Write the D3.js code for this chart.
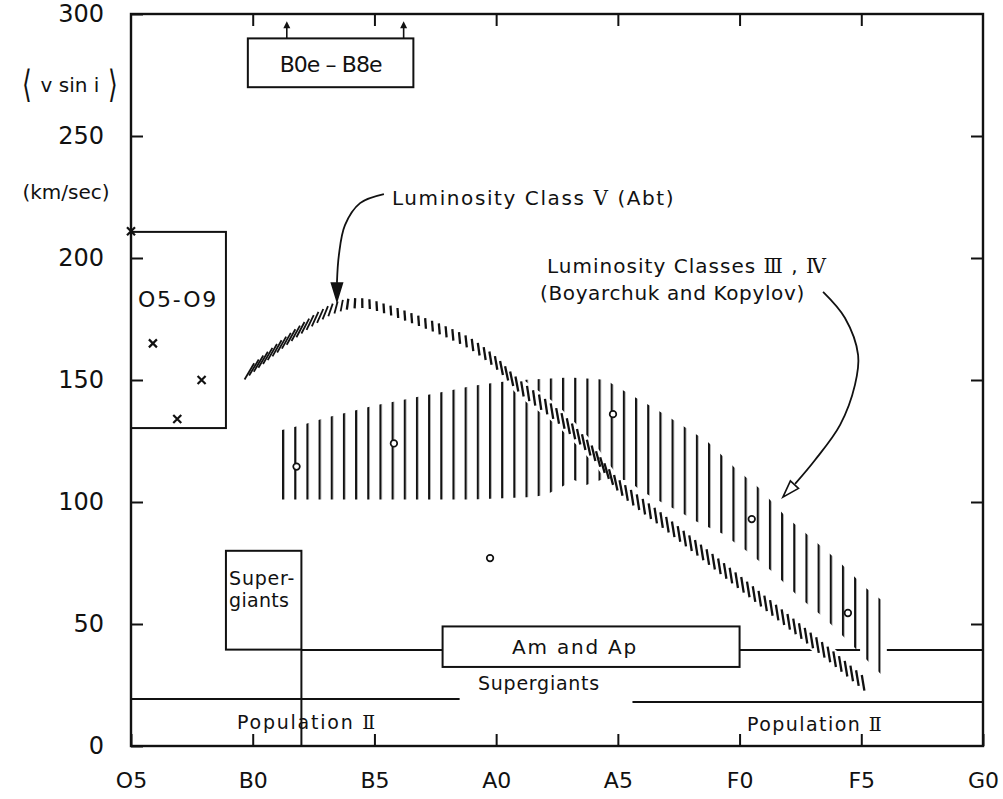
<!DOCTYPE html>
<html><head><meta charset="utf-8">
<script src="https://cdn.jsdelivr.net/npm/d3@7"></script>
<style>
body{margin:0;background:#fff}
text{font-family:"DejaVu Sans",sans-serif;fill:#111}
</style>
</head><body>
<svg id="c" width="1003" height="799"></svg>
<script>
// ---------- DATA ----------
// spectral type axis: index 0 = O5, 5 = B0, ... 35 = G0
const spectralTickPos = [0, 5, 10, 15, 20, 25, 30, 35];
const spectralTicks = ["O5", "B0", "B5", "A0", "A5", "F0", "F5", "G0"];
const vTicks = [0, 50, 100, 150, 200, 250, 300];

// O5–O9 individual stars (crosses)
const oStarX = [0, 0.9, 1.9, 2.9];
const oStarV = [211, 165, 134, 150];

// Luminosity class V (Abt) band: centre line and half thickness (km/s)
const abtX = [4.8, 6, 7.5, 8.5, 9.5, 10.5, 11.75, 13, 14, 15, 16, 17.5, 19, 20, 22, 24, 26, 28, 30.3];
const abtV = [153, 163, 174.5, 180, 181.5, 179, 174.5, 169.5, 164.5, 157, 147, 135.5, 120, 107, 91, 75, 59, 43, 24];
const abtHalf = [3.3, 3.3, 3.0, 2.4, 2.0, 2.0, 2.1, 2.3, 2.5, 2.8, 3.1, 3.2, 3.2, 3.2, 3.2, 3.2, 3.2, 3.2, 3.2];

// Luminosity classes III, IV (Boyarchuk & Kopylov) band envelope
const bkUpperX = [6.2, 7, 8, 9, 10, 11, 12, 13, 14, 15, 16, 17, 18, 19, 19.5, 20.4, 21.4, 22.55, 23.7, 24.8, 25.8, 26.9, 27.9, 29.1, 30.2, 30.8];
const bkUpperV = [129.5, 131.5, 134.5, 137, 139.5, 141.5, 143.5, 145.5, 147.5, 149, 150, 150.5, 151, 150.5, 150, 144.7, 139, 132, 124.6, 114, 105.7, 94, 85.7, 75.4, 64.7, 60];
const bkLowerX = [6.2, 10, 14, 16.5, 17.05, 17.6, 18.2, 18.7, 19.3, 20.4, 20.9, 21.4, 22.0, 22.55, 23.1, 24.3, 25.35, 26.4, 27.45, 28.5, 29.7, 30.8];
const bkLowerV = [101, 101, 101, 102, 103, 105.7, 109, 107, 109, 109, 105, 102, 98.8, 96, 92.6, 87, 79.5, 71, 61, 52.4, 40.6, 29.5];
const bkFirstLine = 6.25, bkLineStep = 0.5;

// open circles
const circX = [6.8, 10.8, 14.75, 19.8, 25.5, 29.45];
const circV = [114.5, 124, 77, 136, 93, 54.5];

// regions (spectral index range, v range)
const beBoxX = [4.8, 11.6], beBoxV = [270, 290];
const beArrowX = [6.4, 11.2], beArrowTipV = 297;
const oBoxX = [0, 3.9], oBoxV = [130.3, 210.7];
const sgBoxX = [3.9, 7], sgBoxV = [39.5, 80];
const amBoxX = [12.8, 25], amBoxV = [32.4, 49];
const amLineV = 39.3;
const amLineSegs = [[7, 12.8], [25, 29.95], [31.05, 35]];
const pop2LeftX = [0, 13.5], pop2LeftV = 19.3;
const pop2RightX = [20.6, 35], pop2RightV = 18;

// annotation arrows (in chart units)
const arrowAbt = [[10.39, 226.2], [9.41, 222.5], [8.79, 213.5], [8.54, 201.2], [8.46, 189.8]];
const arrowAbtTip = [8.46, 182.4];
const arrowBK = [[28.43, 186.1], [29.33, 175.4], [29.87, 160.2], [29.74, 148], [29.13, 131.6], [28.1, 117.2], [27.28, 107.4]];
const arrowBKTip = [26.78, 102];

// ---------- DRAW ----------
const W = 1003, H = 799;
const svg = d3.select("#c");
svg.append("rect").attr("width", W).attr("height", H).attr("fill", "#fff");
const x = d3.scaleLinear().domain([0, 35]).range([131, 983]);
const y = d3.scaleLinear().domain([0, 300]).range([746, 14]);
const ink = "#111";
const pxPerV = y(0) - y(1);

function box(xr, vr, sw) {
  svg.append("rect").attr("x", x(xr[0])).attr("y", y(vr[1]))
    .attr("width", x(xr[1]) - x(xr[0])).attr("height", y(vr[0]) - y(vr[1]))
    .attr("fill", "none").attr("stroke", ink).attr("stroke-width", sw || 2);
}
function hline(x0, x1, v) {
  svg.append("line").attr("x1", x(x0)).attr("x2", x(x1)).attr("y1", y(v)).attr("y2", y(v))
    .attr("stroke", ink).attr("stroke-width", 2);
}

// III/IV band: vertical line hatching via pattern
const defs = svg.append("defs");
const step = x(bkLineStep) - x(0);
const pat = defs.append("pattern").attr("id", "vlines").attr("patternUnits", "userSpaceOnUse")
  .attr("width", step).attr("height", 20).attr("x", x(bkFirstLine) - 1.1).attr("y", 0);
pat.append("rect").attr("x", 0).attr("y", 0).attr("width", 2.2).attr("height", 20).attr("fill", ink);

const upperS = d3.scaleLinear().domain(bkUpperX).range(bkUpperV);
const lowerS = d3.scaleLinear().domain(bkLowerX).range(bkLowerV);
const bkXs = Array.from(new Set(bkUpperX.concat(bkLowerX))).sort((a, b) => a - b);
svg.append("path").datum(bkXs)
  .attr("d", d3.area().x(d => x(d)).y0(d => y(lowerS(d))).y1(d => y(upperS(d))))
  .attr("fill", "url(#vlines)");

// horizontal lines and boxes
amLineSegs.forEach(s => hline(s[0], s[1], amLineV));
hline(pop2LeftX[0], pop2LeftX[1], pop2LeftV);
hline(pop2RightX[0], pop2RightX[1], pop2RightV);
box(oBoxX, oBoxV);
box(sgBoxX, sgBoxV);
svg.append("line").attr("x1", x(sgBoxX[1])).attr("x2", x(sgBoxX[1])).attr("y1", y(sgBoxV[0])).attr("y2", y(0))
  .attr("stroke", ink).attr("stroke-width", 2);
svg.append("rect").attr("x", x(amBoxX[0])).attr("y", y(amBoxV[1]))
  .attr("width", x(amBoxX[1]) - x(amBoxX[0])).attr("height", y(amBoxV[0]) - y(amBoxV[1]))
  .attr("fill", "#fff").attr("stroke", ink).attr("stroke-width", 2);
box(beBoxX, beBoxV);

// circles
svg.selectAll(".circ").data(circX).enter().append("circle")
  .attr("cx", d => x(d)).attr("cy", (d, i) => y(circV[i])).attr("r", 3.3)
  .attr("fill", "#fff").attr("stroke", ink).attr("stroke-width", 1.7);

// Abt band: white halo then slanted hatch strokes
const abtPts = abtX.map((d, i) => [d, abtV[i], abtHalf[i]]);
svg.append("path").datum(abtPts)
  .attr("d", d3.area().curve(d3.curveCatmullRom).x(d => x(d[0]))
    .y0(d => y(d[1] - d[2] - 1.0)).y1(d => y(d[1] + d[2] + 1.0)))
  .attr("fill", "#fff");
const guide = svg.append("path").datum(abtPts)
  .attr("d", d3.line().curve(d3.curveCatmullRom).x(d => x(d[0])).y(d => y(d[1])))
  .attr("fill", "none").attr("stroke", "none");
const halfS = d3.scaleLinear().domain(abtX).range(abtHalf);
const gNode = guide.node();
const L = gNode.getTotalLength();
const hatch = svg.append("g").attr("stroke", ink);
let l = 2;
while (l <= L - 1) {
  const p = gNode.getPointAtLength(l);
  const p1 = gNode.getPointAtLength(Math.max(0, l - 3));
  const p2 = gNode.getPointAtLength(Math.min(L, l + 3));
  let s = (p2.y - p1.y) / (p2.x - p1.x);
  s = Math.max(-1.6, Math.min(1.6, s));
  const rising = s < -0.25;
  const h = halfS(x.invert(p.x)) * pxPerV;
  const k = s < 0 ? 0.7 : 0.2;
  const a = -k * s * h;
  hatch.append("line").attr("x1", p.x - a).attr("y1", p.y + h).attr("x2", p.x + a).attr("y2", p.y - h)
    .attr("stroke-width", rising ? 1.8 : 2.3);
  l += rising ? 6.0 : 7.4;
}

// crosses
svg.selectAll(".cross").data(oStarX).enter().append("path")
  .attr("d", (d, i) => {
    const cx = x(d), cy = y(oStarV[i]), r = 4;
    return `M${cx - r},${cy - r}L${cx + r},${cy + r}M${cx - r},${cy + r}L${cx + r},${cy - r}`;
  })
  .attr("stroke", ink).attr("stroke-width", 2.2);

// frame and axes
svg.append("rect").attr("x", x(0)).attr("y", y(300)).attr("width", x(35) - x(0)).attr("height", y(0) - y(300))
  .attr("fill", "none").attr("stroke", ink).attr("stroke-width", 2.4);
function styleAxis(g, fs) {
  g.attr("font-family", "DejaVu Sans").attr("font-size", fs);
  g.select(".domain").remove();
  g.selectAll(".tick line").attr("stroke", ink).attr("stroke-width", 2);
  g.selectAll(".tick text").attr("fill", ink);
}
svg.append("g").attr("transform", `translate(0,${y(0)})`)
  .call(d3.axisBottom(x).tickValues(spectralTickPos).tickFormat((d, i) => spectralTicks[i])
    .tickSizeInner(-12).tickSizeOuter(0).tickPadding(26))
  .call(g => styleAxis(g, 22));
svg.append("g").attr("transform", `translate(${x(0)},0)`)
  .call(d3.axisLeft(y).tickValues(vTicks).tickSizeInner(-12).tickSizeOuter(0).tickPadding(27))
  .call(g => styleAxis(g, 24));
svg.append("g").attr("transform", `translate(0,${y(300)})`)
  .call(d3.axisTop(x).tickValues(spectralTickPos.slice(1, -1)).tickFormat("").tickSizeInner(-12).tickSizeOuter(0))
  .call(g => styleAxis(g, 10));
svg.append("g").attr("transform", `translate(${x(35)},0)`)
  .call(d3.axisRight(y).tickValues(vTicks.slice(1, -1)).tickFormat("").tickSizeInner(-12).tickSizeOuter(0))
  .call(g => styleAxis(g, 10));

// Be arrows
beArrowX.forEach(bx => {
  const px = x(bx);
  svg.append("line").attr("x1", px).attr("x2", px).attr("y1", y(beBoxV[1])).attr("y2", y(beArrowTipV) + 4)
    .attr("stroke", ink).attr("stroke-width", 1.6);
  const t = y(beArrowTipV);
  svg.append("path").attr("d", `M${px},${t}L${px - 3.5},${t + 7}L${px + 3.5},${t + 7}Z`).attr("fill", ink);
});

// annotation arrows
function arrowHead(tip, from, len, hw, filled) {
  const dx = tip[0] - from[0], dy = tip[1] - from[1];
  const d = Math.hypot(dx, dy), ux = dx / d, uy = dy / d;
  const bx = tip[0] - ux * len, by = tip[1] - uy * len;
  svg.append("path")
    .attr("d", `M${tip[0]},${tip[1]}L${bx - uy * hw},${by + ux * hw}L${bx + uy * hw},${by - ux * hw}Z`)
    .attr("fill", filled ? ink : "#fff").attr("stroke", ink).attr("stroke-width", 1.6)
    .attr("stroke-linejoin", "miter");
}
const lineGen = d3.line().curve(d3.curveCatmullRom).x(d => x(d[0])).y(d => y(d[1]));
svg.append("path").attr("d", lineGen(arrowAbt)).attr("fill", "none").attr("stroke", ink).attr("stroke-width", 1.8);
arrowHead([x(arrowAbtTip[0]), y(arrowAbtTip[1])], [x(arrowAbt[4][0]), y(arrowAbt[3][1])], 18, 5.5, true);
svg.append("path").attr("d", lineGen(arrowBK)).attr("fill", "none").attr("stroke", ink).attr("stroke-width", 1.8);
arrowHead([x(arrowBKTip[0]), y(arrowBKTip[1])], [x(arrowBK[6][0]), y(arrowBK[6][1])], 17, 5.5, false);

// ---------- TEXT ----------
function label(parts, xi, v, opt) {
  const t = svg.append("text").attr("x", x(xi)).attr("y", y(v))
    .attr("font-size", opt.size).attr("text-anchor", opt.anchor || "start");
  parts.forEach(p => {
    const ts = t.append("tspan").text(p[0]);
    if (p[1]) ts.attr("font-family", "DejaVu Serif");
  });
  if (opt.width) {
    const w = t.node().getComputedTextLength();
    const n = t.text().length;
    t.attr("letter-spacing", ((opt.width - w) / n).toFixed(2));
  }
  return t;
}
label([["B0e – B8e"]], (beBoxX[0] + beBoxX[1]) / 2, 276.2, {size: 22, anchor: "middle", width: 102});
label([["O5-O9"]], 1.93, 179.9, {size: 22, anchor: "middle", width: 80});
label([["Luminosity Class  "], ["Ⅴ", 1], ["   (Abt)"]], 10.72, 221.7, {size: 20, width: 288});
label([["Luminosity Classes "], ["Ⅲ", 1], [" , "], ["Ⅳ", 1]], 17.09, 193.9, {size: 20, width: 280});
label([["(Boyarchuk and Kopylov)"]], 16.8, 182.8, {size: 20, width: 265});
label([["Super-"]], 4.03, 66, {size: 19, width: 66});
label([["giants"]], 4.03, 57, {size: 19, width: 60});
label([["Am and Ap"]], 18.24, 37.7, {size: 20, anchor: "middle", width: 126});
label([["Supergiants"]], 16.76, 23, {size: 19, anchor: "middle", width: 122});
label([["Population "], ["Ⅱ", 1]], 7.23, 7, {size: 19, anchor: "middle", width: 140});
label([["Population "], ["Ⅱ", 1]], 28.1, 6.1, {size: 19, anchor: "middle", width: 136});

// y-axis title
svg.append("text").attr("x", 70).attr("y", 92).attr("text-anchor", "middle").attr("font-size", 20).text("v sin i");
svg.append("text").attr("transform", "translate(27,97) scale(1,1.5)").attr("text-anchor", "middle")
  .attr("font-size", 25).text("⟨");
svg.append("text").attr("transform", "translate(113,97) scale(1,1.5)").attr("text-anchor", "middle")
  .attr("font-size", 25).text("⟩");
svg.append("text").attr("x", 66).attr("y", 199).attr("text-anchor", "middle").attr("font-size", 20).text("(km/sec)");
</script>
</body></html>
